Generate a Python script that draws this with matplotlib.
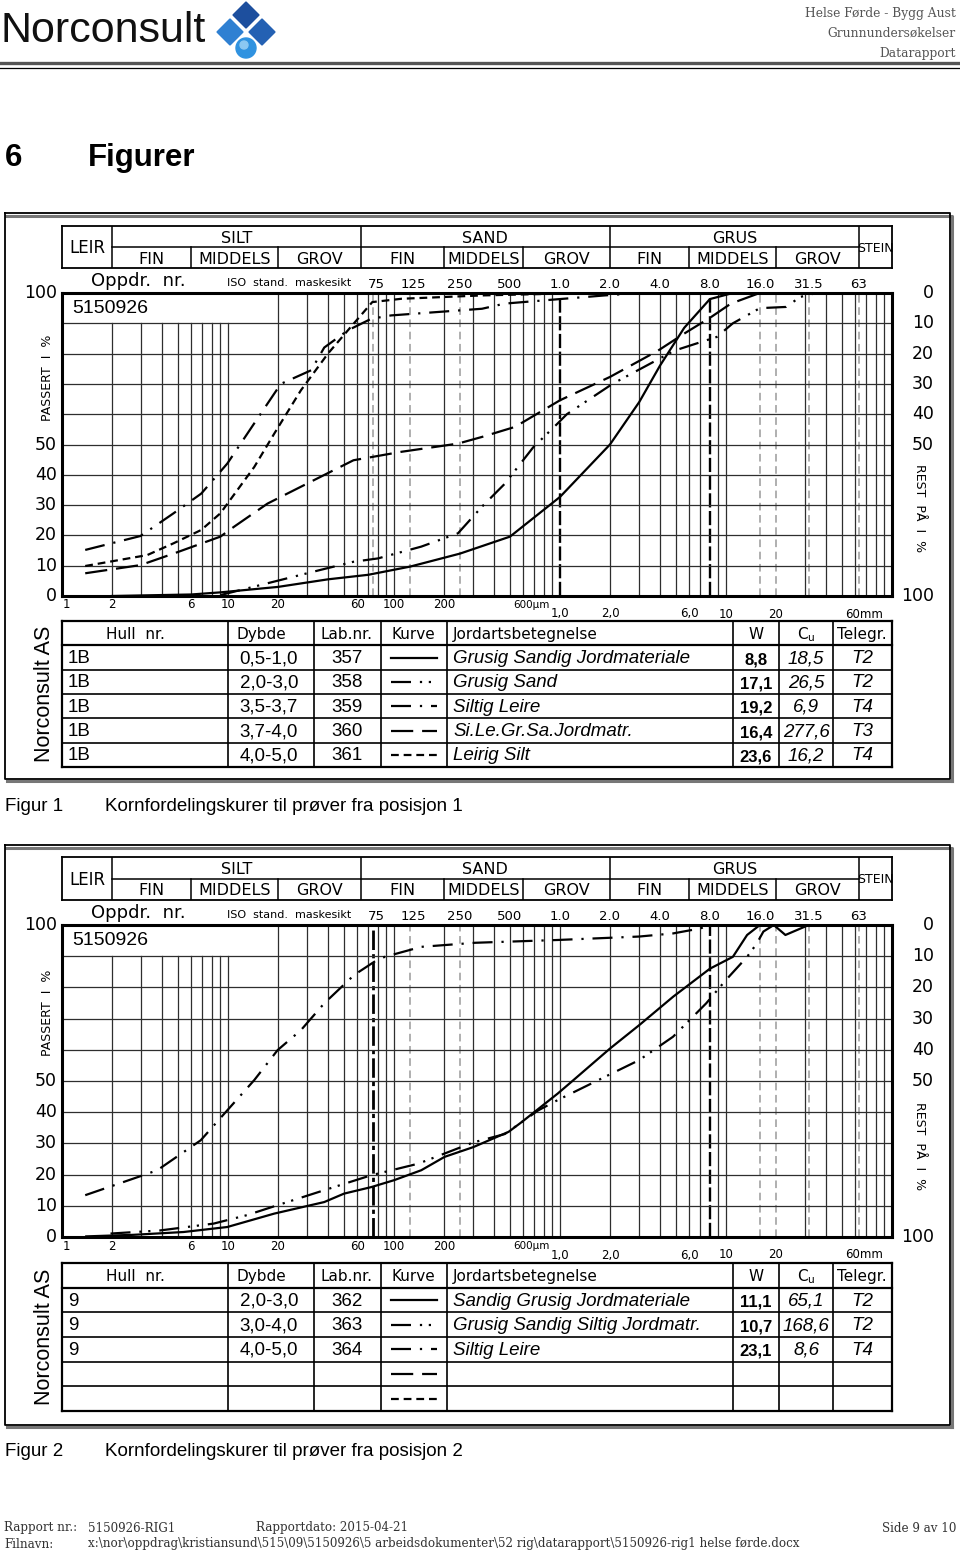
import matplotlib
matplotlib.use("Agg")
import matplotlib.pyplot as plt
import numpy as np
from matplotlib import transforms
from matplotlib.patches import Polygon, Circle

plt.rcParams['font.family'] = ['Liberation Sans', 'DejaVu Sans']

W, H = 960, 1556

# ---- data, grain size in mm, percent passing ----
# Figur 1 (posisjon 1)
f1_357_d = [0.002, 0.006, 0.009, 0.02, 0.04, 0.07, 0.125, 0.25, 0.5, 1.0, 2.0, 3.0, 4.0, 5.6, 8.0, 11.0]
f1_357_p = [0, 0.5, 1.2, 3, 5.5, 7, 9.7, 14, 19.6, 32.7, 50, 64, 76, 88.5, 98, 100]
f1_358_d = [0.009, 0.0173, 0.036, 0.057, 0.08, 0.146, 0.243, 0.339, 0.464, 0.688, 0.97, 1.1, 2.07, 4.9, 8.8, 11, 16, 23, 28, 35]
f1_358_p = [0.3, 4.2, 8.6, 11.3, 12.4, 16.3, 20.7, 29.5, 37, 49, 57, 60, 70, 81, 85.5, 90, 95, 95.4, 98.7, 100]
f1_359_d = [0.00138, 0.00297, 0.0047, 0.0069, 0.0099, 0.0144, 0.0208, 0.0317, 0.038, 0.0528, 0.073, 0.096, 0.339, 0.464, 1.0, 1.86, 3.0]
f1_359_p = [15.2, 19.8, 27.3, 33.8, 43.7, 57, 70, 74.5, 82, 87.7, 91.5, 92.6, 94.8, 96.5, 98, 99.2, 100]
f1_360_d = [0.00138, 0.00297, 0.0047, 0.009, 0.0109, 0.0173, 0.036, 0.057, 0.111, 0.243, 0.339, 0.535, 1.0, 2.0, 3.9, 5.6, 8.1, 10.7, 15.6]
f1_360_p = [7.5, 10.2, 14, 19.6, 22.9, 30.5, 39.3, 44.8, 47.6, 50.3, 52.5, 55.8, 64.6, 72.3, 81, 86.6, 92, 96.5, 99.8]
f1_361_d = [0.00138, 0.00326, 0.0047, 0.0069, 0.009, 0.0144, 0.019, 0.0275, 0.04, 0.0528, 0.074, 0.111, 0.339, 1.0, 2.0]
f1_361_p = [9.9, 13.5, 17.4, 21.8, 27.3, 42.6, 53.6, 67.9, 80, 87.7, 97, 98.1, 99.2, 99.8, 100]

# Figur 2 (posisjon 2)
f2_362_d = [0.0014, 0.0027, 0.0054, 0.0099, 0.019, 0.038, 0.05, 0.073, 0.1, 0.146, 0.202, 0.3, 0.49, 0.59, 0.97, 1.17, 2.0, 3.0, 4.8, 8.0, 11.0, 13.4, 16.0, 19.4, 22.8, 31.5]
f2_362_p = [0.2, 0.7, 1.6, 3.2, 7.5, 11.2, 13.9, 16, 18.2, 21.4, 25.7, 28.8, 33.7, 36.9, 46, 49.7, 60.4, 67.9, 77, 86, 89.8, 96.8, 100, 100, 96.8, 100]
f2_363_d = [0.00196, 0.0039, 0.0082, 0.013, 0.0199, 0.038, 0.073, 0.14, 0.3, 0.465, 0.74, 0.97, 1.86, 3.0, 4.8, 7.6, 10, 13.4, 15.3, 16.8, 19.4]
f2_363_p = [1.1, 2.1, 4.3, 7, 10.2, 15, 19.8, 23.5, 30.3, 33, 40.6, 43.9, 51.3, 56.7, 64.2, 74.9, 82.4, 89.8, 94, 97.9, 100]
f2_364_d = [0.00138, 0.00297, 0.00375, 0.00685, 0.0099, 0.0144, 0.0199, 0.0275, 0.038, 0.0576, 0.076, 0.088, 0.146, 0.307, 0.971, 3.0, 4.8, 7.0, 8.0]
f2_364_p = [13.4, 19.5, 21.4, 31, 40.6, 50.3, 59.9, 66.3, 74.9, 84, 88.2, 89.8, 93, 94.3, 95.2, 96.3, 97.3, 98.9, 100]

# tables
t1_hull = ["1B", "1B", "1B", "1B", "1B"]
t1_dybde = ["0,5-1,0", "2,0-3,0", "3,5-3,7", "3,7-4,0", "4,0-5,0"]
t1_lab = ["357", "358", "359", "360", "361"]
t1_jord = ["Grusig Sandig Jordmateriale", "Grusig Sand", "Siltig Leire", "Si.Le.Gr.Sa.Jordmatr.", "Leirig Silt"]
t1_w = ["8,8", "17,1", "19,2", "16,4", "23,6"]
t1_cu = ["18,5", "26,5", "6,9", "277,6", "16,2"]
t1_tel = ["T2", "T2", "T4", "T3", "T4"]

t2_hull = ["9", "9", "9"]
t2_dybde = ["2,0-3,0", "3,0-4,0", "4,0-5,0"]
t2_lab = ["362", "363", "364"]
t2_jord = ["Sandig Grusig Jordmateriale", "Grusig Sandig Siltig Jordmatr.", "Siltig Leire"]
t2_w = ["11,1", "10,7", "23,1"]
t2_cu = ["65,1", "168,6", "8,6"]
t2_tel = ["T2", "T2", "T4"]

# axis annotations
sieve_d = [0.075, 0.125, 0.25, 0.5, 1.0, 2.0, 4.0, 8.0, 16.0, 31.5, 63.0]
sieve_lbl = ["75", "125", "250", "500", "1.0", "2.0", "4.0", "8.0", "16.0", "31.5", "63"]
um_d = [0.001, 0.002, 0.006, 0.01, 0.02, 0.06, 0.1, 0.2]
um_lbl = ["1", "2", "6", "10", "20", "60", "100", "200"]
mm_d = [1.0, 2.0, 6.0, 10.0, 20.0]
mm_lbl = ["1,0", "2,0", "6,0", "10", "20"]
class_bounds = [0.002, 0.063, 2.0, 63.0]
sub_bounds = [0.006, 0.02, 0.2, 0.6, 6.0, 20.0]
main_names = ["SILT", "SAND", "GRUS"]
sub_names = ["FIN", "MIDDELS", "GROV"] * 3

STY = {
    "solid": "-",
    "dash2dot": (0, (9, 4, 1, 3, 1, 4)),
    "dashdot": (0, (9, 4, 1, 4)),
    "longdash": (0, (10, 4)),
    "shortdash": (0, (3.5, 2.2)),
}
sample_order = ["solid", "dash2dot", "dashdot", "longdash", "shortdash"]

CAD = ['DejaVu Sans']

fig = plt.figure(figsize=(W / 100, H / 100), dpi=100)
ov = fig.add_axes([0, 0, 1, 1])
ov.set_xlim(0, W)
ov.set_ylim(H, 0)
ov.axis('off')


def px_axes(x0, y0, x1, y1):
    return fig.add_axes([x0 / W, 1 - y1 / H, (x1 - x0) / W, (y1 - y0) / H])


def off(base, dx, dy):
    return transforms.offset_copy(base, fig=fig, x=dx, y=dy, units='dots')


def gmean(a, b):
    return np.sqrt(a * b)


def draw_chart(g, curves, tab, black_dash, gray_dash, dashdot75):
    # outer frame with shadow
    ov.plot([6, 952, 952], [g['ft'] + 3, g['ft'] + 3, g['fb'] + 2], color='#777', lw=2.2)
    ov.plot([7, 952], [g['fb'] + 2, g['fb'] + 2], color='#777', lw=2.2)
    ov.plot([5, 950, 950, 5, 5], [g['ft'], g['ft'], g['fb'], g['fb'], g['ft']], color='black', lw=1.3)

    # class header table
    ah = px_axes(62, g['ht'], 892, g['hb'])
    ah.set_xscale('log')
    ah.set_xlim(0.001, 100)
    ah.set_ylim(0, 2)
    ah.set_xticks([])
    ah.set_yticks([])
    ah.xaxis.set_minor_locator(plt.NullLocator())
    for s in ah.spines.values():
        s.set_linewidth(1.3)
    ah.plot([0.002, 63], [1, 1], color='black', lw=1.1)
    for b in class_bounds:
        ah.axvline(b, color='black', lw=1.1)
    for b in sub_bounds:
        ah.axvline(b, ymax=0.5, color='black', lw=1.1)
    ah.text(gmean(0.001, 0.002), 0.95, "LEIR", ha='center', va='center', fontsize=12, family=CAD)
    ah.text(gmean(63, 100), 0.95, "STEIN", ha='center', va='center', fontsize=9, family=CAD)
    for i, nm in enumerate(main_names):
        ah.text(gmean(class_bounds[i], class_bounds[i + 1]), 1.42, nm, ha='center', va='center',
                fontsize=11.5, family=CAD)
    edges = [0.002, 0.006, 0.02, 0.063, 0.2, 0.6, 2.0, 6.0, 20.0, 63.0]
    for i, nm in enumerate(sub_names):
        ah.text(gmean(edges[i], edges[i + 1]), 0.42, nm, ha='center', va='center',
                fontsize=11.5, family=CAD)

    # main grain size plot
    ax = px_axes(62, g['pt'], 892, g['pb'])
    ax.set_xscale('log')
    ax.set_xlim(0.001, 100)
    ax.set_ylim(0, 100)
    ax.set_xticks([])
    ax.xaxis.set_minor_locator(plt.NullLocator())
    ax.set_yticks([])
    for s in ax.spines.values():
        s.set_linewidth(2.2)
    special = black_dash + gray_dash + dashdot75
    for k in range(-3, 2):
        for n in range(1, 10):
            v = n * 10.0 ** k
            if v <= 0.001 or any(np.isclose(v, s) for s in special):
                continue
            ax.axvline(v, ymax=0.9 if v < 0.015 else 1.0, color='#2e2e2e', lw=0.9, zorder=1)
    for v in gray_dash:
        ax.axvline(v, color='#9a9a9a', lw=1.1, ls=(0, (5, 3)), zorder=1)
    for v in black_dash:
        ax.axvline(v, color='black', lw=1.7, ls=(0, (6, 1.5)), zorder=1)
    for v in dashdot75:
        ax.axvline(v, color='black', lw=2.0, ls=(0, (7, 1.5, 1.5, 1.5)), zorder=1)
    for p in range(10, 100, 10):
        ax.axhline(p, color='#2e2e2e', lw=0.9, zorder=1)
    for d, p, st in curves:
        ax.plot(d, p, color='black', lw=1.6, ls=STY[st], zorder=3)
    ax.text(0.00115, 95, "5150926", ha='left', va='center', fontsize=14)

    # labels round the plot
    ty = ax.get_yaxis_transform()
    tx = ax.get_xaxis_transform()
    for p in [0, 10, 20, 30, 40, 50, 100]:
        ax.text(0, p, str(p), transform=off(ty, -5, 0), ha='right', va='center',
                fontsize=12.5, family=CAD)
    for p in [100, 90, 80, 70, 60, 50, 0]:
        ax.text(1, p, str(100 - p), transform=off(ty, 42, 0), ha='right', va='center',
                fontsize=12.5, family=CAD)
    ax.text(0, 72, "PASSERT  I  %", transform=off(ty, -15, 0), rotation=90, ha='center',
            va='center', fontsize=9, family=CAD)
    ax.text(1, 29, "REST  PÅ  I  %", transform=off(ty, 28, 0), rotation=-90, ha='center',
            va='center', fontsize=9, family=CAD)
    for d, lb in zip(sieve_d, sieve_lbl):
        ax.text(d, 1, lb, transform=off(tx, 3 if lb in ("125", "75") else 0, 8), ha='center',
                va='center', fontsize=9.5, family=CAD)
    ax.text(0.0029, 1, "Oppdr.  nr.", transform=off(tx, 0, 12), ha='center', va='center',
            fontsize=13, family=CAD)
    ax.text(0.0099, 1, "ISO  stand.  maskesikt", transform=off(tx, 0, 10), ha='left',
            va='center', fontsize=8, family=CAD)
    for d, lb in zip(um_d, um_lbl):
        ax.text(d, 0, lb, transform=off(tx, 4 if lb == "1" else 0, -9), ha='center',
                va='center', fontsize=8.5, family=CAD)
    ax.text(0.6, 0, "600µm", transform=off(tx, -10, -9), ha='left', va='center',
            fontsize=7.5, family=CAD)
    for d, lb in zip(mm_d, mm_lbl):
        ax.text(d, 0, lb, transform=off(tx, 0, -18), ha='center', va='center',
                fontsize=8.5, family=CAD)
    ax.text(60, 0, "60mm", transform=off(tx, -10, -18), ha='left', va='center',
            fontsize=8.5, family=CAD)

    # sample table
    cols = [62, 228, 314, 381, 447, 733, 779, 833, 892]
    rows = np.linspace(g['tt'], g['tb'], 7)
    for i, y in enumerate(rows):
        ov.plot([62, 892], [y, y], color='black', lw=1.6 if i in (0, 1, 6) else 1.2)
    for i, x in enumerate(cols):
        ov.plot([x, x], [rows[0], rows[-1]], color='black', lw=1.6 if i in (0, 8) else 1.2)
    hy = (rows[0] + rows[1]) / 2 + 1
    heads = [("Hull  nr.", 135, 'center'), ("Dybde", 261, 'center'), ("Lab.nr.", 347, 'center'),
             ("Kurve", 413, 'center'), ("Jordartsbetegnelse", 453, 'left'), ("W", 756, 'center'),
             (r"C$_\mathrm{u}$", 797, 'left'), ("Telegr.", 862, 'center')]
    for t, x, ha in heads:
        ov.text(x, hy, t, ha=ha, va='center', fontsize=11, family=CAD)
    for i in range(5):
        cy = (rows[i + 1] + rows[i + 2]) / 2 + 1
        ov.plot([391, 437], [cy - 1, cy - 1], color='black', lw=1.6, ls=STY[sample_order[i]])
        if i >= len(tab[0]):
            continue
        hull, dyb, lab, jord, w, cu, tel = [c[i] for c in tab]
        ov.text(68, cy, hull, ha='left', va='center', fontsize=13.5)
        ov.text(269, cy, dyb, ha='center', va='center', fontsize=13.5)
        ov.text(347, cy, lab, ha='center', va='center', fontsize=13.5)
        ov.text(453, cy, jord, ha='left', va='center', fontsize=13.5, style='italic')
        ov.text(756, cy + 1, w, ha='center', va='center', fontsize=12, weight='bold')
        ov.text(806, cy, cu, ha='center', va='center', fontsize=13.5, style='italic')
        ov.text(862, cy, tel, ha='center', va='center', fontsize=13.5, style='italic')
    ov.text(45, (rows[0] + rows[-1]) / 2, "Norconsult AS", rotation=90, ha='center',
            va='center', fontsize=15.5)

    # caption
    ov.text(5, g['cap'], "Figur " + g['num'], ha='left', va='center', fontsize=13.5)
    ov.text(105, g['cap'], "Kornfordelingskurer til prøver fra posisjon " + g['num'],
            ha='left', va='center', fontsize=13.5)


G1 = dict(ft=213, fb=779, ht=226, hb=268, pt=293, pb=596, tt=621, tb=767, cap=806, num="1")
G2 = dict(ft=845, fb=1425, ht=857, hb=900, pt=925, pb=1237, tt=1263, tb=1411, cap=1452, num="2")

draw_chart(G1,
           [(f1_357_d, f1_357_p, "solid"), (f1_358_d, f1_358_p, "dash2dot"),
            (f1_359_d, f1_359_p, "dashdot"), (f1_360_d, f1_360_p, "longdash"),
            (f1_361_d, f1_361_p, "shortdash")],
           [t1_hull, t1_dybde, t1_lab, t1_jord, t1_w, t1_cu, t1_tel],
           [1.0, 8.0], [0.075, 0.125, 0.25, 16.0, 20.0, 31.5, 63.0], [])
draw_chart(G2,
           [(f2_362_d, f2_362_p, "solid"), (f2_363_d, f2_363_p, "dash2dot"),
            (f2_364_d, f2_364_p, "dashdot")],
           [t2_hull, t2_dybde, t2_lab, t2_jord, t2_w, t2_cu, t2_tel],
           [8.0], [0.125, 0.25, 16.0, 20.0, 31.5, 63.0], [0.075])

# ---- page header ----
ov.text(0, 31, "Norconsult", ha='left', va='center', fontsize=31, color='#111')
ov.add_patch(Polygon([(246, 2), (259, 15), (246, 28), (233, 15)], color='#1d4f9e'))
ov.add_patch(Polygon([(230, 19), (243, 32), (230, 45), (217, 32)], color='#2f80d2'))
ov.add_patch(Polygon([(262, 19), (275, 32), (262, 45), (249, 32)], color='#2461b3'))
ov.add_patch(Circle((246, 48), 10, color='#2f92e0'))
ov.add_patch(Circle((244, 45), 4, color='#8cc8f2'))
for i, t in enumerate(["Helse Førde - Bygg Aust", "Grunnundersøkelser", "Datarapport"]):
    ov.text(956, 13 + 20 * i, t, ha='right', va='center', fontsize=8.8, family='DejaVu Serif',
            color='#555')
ov.plot([0, 960], [63, 63], color='#555', lw=2.4)
ov.plot([0, 960], [67.5, 67.5], color='black', lw=0.9)

ov.text(5, 158, "6", ha='left', va='center', fontsize=22.5, weight='bold')
ov.text(88, 158, "Figurer", ha='left', va='center', fontsize=22.5, weight='bold')

# ---- footer ----
fkw = dict(va='center', fontsize=8.6, family='DejaVu Serif', color='#333')
ov.text(4, 1528, "Rapport nr.:", ha='left', **fkw)
ov.text(88, 1528, "5150926-RIG1", ha='left', **fkw)
ov.text(256, 1528, "Rapportdato: 2015-04-21", ha='left', **fkw)
ov.text(956, 1528, "Side 9 av 10", ha='right', **fkw)
ov.text(4, 1544, "Filnavn:", ha='left', **fkw)
ov.text(88, 1544, "x:\\nor\\oppdrag\\kristiansund\\515\\09\\5150926\\5 arbeidsdokumenter\\52 rig"
        "\\datarapport\\5150926-rig1 helse førde.docx", ha='left', **fkw)

fig.savefig("out.png", dpi=100)
